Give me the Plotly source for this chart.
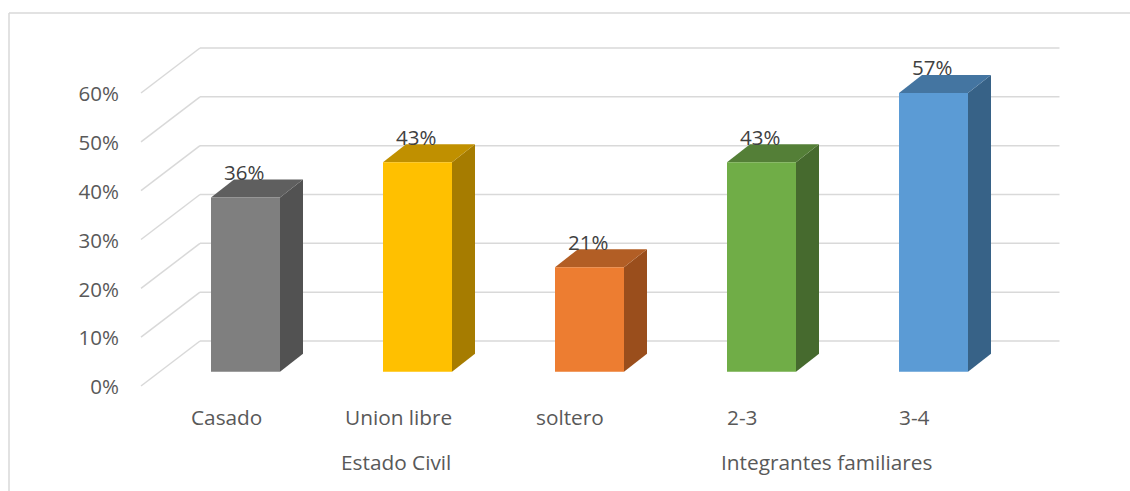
import plotly.graph_objects as go

categories = ["Casado", "Union libre", "soltero", "2-3", "3-4"]
values = [35.7, 42.9, 21.4, 42.9, 57.1]
groups = ["Estado Civil", "Estado Civil", "Estado Civil", "Integrantes familiares", "Integrantes familiares"]
front_colors = ["#7F7F7F", "#FFC000", "#ED7D31", "#70AD47", "#5B9BD5"]
top_colors = ["#5F5F5F", "#C09000", "#B25E25", "#547F37", "#4475A1"]
side_colors = ["#525252", "#A67C00", "#9A4E1C", "#466A2E", "#376287"]
grid_ticks = [0, 10, 20, 30, 40, 50, 60]
grid_labels = ["0%", "10%", "20%", "30%", "40%", "50%", "60%"]

W, H = 1130, 491
PX_PER_CAT = 172.0
X0_PX = 245.5
PX_PER_UNIT = 4.883
Y0_PX = 371.7
GRID = "#D9D9D9"

positions = list(range(len(categories)))
BAR_W = 69 / PX_PER_CAT
DX = 23 / PX_PER_CAT
DY = 18 / PX_PER_UNIT
x_range = [-X0_PX / PX_PER_CAT, (W - X0_PX) / PX_PER_CAT]
y_range = [(Y0_PX - H) / PX_PER_UNIT, Y0_PX / PX_PER_UNIT]
# planes of the grid, relative to the plane of the bars
BACK_X0, BACK_X1 = (200 - X0_PX) / PX_PER_CAT, (1059.5 - X0_PX) / PX_PER_CAT
FRONT_X = (141 - X0_PX) / PX_PER_CAT
BACK_DY = (Y0_PX - 341) / PX_PER_UNIT
FRONT_DY = (Y0_PX - 386) / PX_PER_UNIT
TICK_DY = (Y0_PX - 387) / PX_PER_UNIT

shapes = []
for t in grid_ticks:
    shapes.append(dict(type="line", xref="x", yref="y", layer="below",
                       x0=FRONT_X, y0=t + FRONT_DY, x1=BACK_X0, y1=t + BACK_DY,
                       line=dict(color=GRID, width=1.5)))
    shapes.append(dict(type="line", xref="x", yref="y", layer="below",
                       x0=BACK_X0, y0=t + BACK_DY, x1=BACK_X1, y1=t + BACK_DY,
                       line=dict(color=GRID, width=1.5)))
for p, v, tc, sc in zip(positions, values, top_colors, side_colors):
    l, r = p - BAR_W / 2, p + BAR_W / 2
    shapes.append(dict(type="path", xref="x", yref="y", layer="below",
                       path=f"M{r},0 L{r + DX},{DY} L{r + DX},{v + DY} L{r},{v} Z",
                       fillcolor=sc, line=dict(width=0)))
    shapes.append(dict(type="path", xref="x", yref="y", layer="below",
                       path=f"M{l},{v} L{l + DX},{v + DY} L{r + DX},{v + DY} L{r},{v} Z",
                       fillcolor=tc, line=dict(width=0)))
# chart frame
shapes.append(dict(type="line", xref="paper", yref="paper", x0=9 / W, x1=9 / W, y0=0, y1=1 - 13 / H,
                   line=dict(color=GRID, width=1.5)))
shapes.append(dict(type="line", xref="paper", yref="paper", x0=9 / W, x1=1, y0=1 - 13 / H, y1=1 - 13 / H,
                   line=dict(color=GRID, width=1.5)))

annotations = []
for p, v in zip(positions, values):
    annotations.append(dict(x=p, y=v, xref="x", yref="y", text=f"{round(v)}%", showarrow=False,
                            xshift=-1.5, yshift=25.5, xanchor="center", yanchor="middle",
                            font=dict(family="Open Sans", size=20.5, color="#404040")))
for p, c in zip(positions, categories):
    annotations.append(dict(x=p, y=1 - 417 / H, xref="x", yref="paper", text=c, showarrow=False,
                            xshift=-19.5, xanchor="center", yanchor="middle",
                            font=dict(family="Open Sans", size=20.8, color="#595959")))
seen = []
for g in groups:
    if g not in seen:
        seen.append(g)
for g in seen:
    idx = [p for p, gg in zip(positions, groups) if gg == g]
    annotations.append(dict(x=sum(idx) / len(idx), y=1 - 462 / H, xref="x", yref="paper", text=g,
                            showarrow=False, xshift=-21.5, xanchor="center", yanchor="middle",
                            font=dict(family="Open Sans", size=20.8, color="#595959")))

fig = go.Figure(go.Bar(x=positions, y=values, width=BAR_W, marker=dict(color=front_colors, line=dict(width=0)),
                       showlegend=False, hoverinfo="skip"))
# invisible trace that carries the percentage axis drawn at the front of the floor
fig.add_trace(go.Scatter(x=[positions[0]], y=[grid_ticks[0]], yaxis="y2", mode="markers",
                         marker=dict(opacity=0), showlegend=False, hoverinfo="skip"))
fig.update_layout(
    width=W, height=H, margin=dict(l=0, r=0, t=0, b=0),
    paper_bgcolor="white", plot_bgcolor="white", showlegend=False,
    xaxis=dict(range=x_range, visible=False, fixedrange=True),
    yaxis=dict(range=y_range, visible=False, fixedrange=True),
    yaxis2=dict(range=[y_range[0] - TICK_DY, y_range[1] - TICK_DY], overlaying="y", anchor="free",
                position=119 / W, side="left", tickmode="array", tickvals=grid_ticks, ticktext=grid_labels,
                ticks="", showgrid=False, zeroline=False, showline=False,
                tickfont=dict(family="Open Sans", size=20.5, color="#595959")),
    shapes=shapes, annotations=annotations,
)
fig.write_html("out.html", config=dict(displayModeBar=False),
               post_script="document.body.style.margin='0';document.documentElement.style.overflow='hidden';")
